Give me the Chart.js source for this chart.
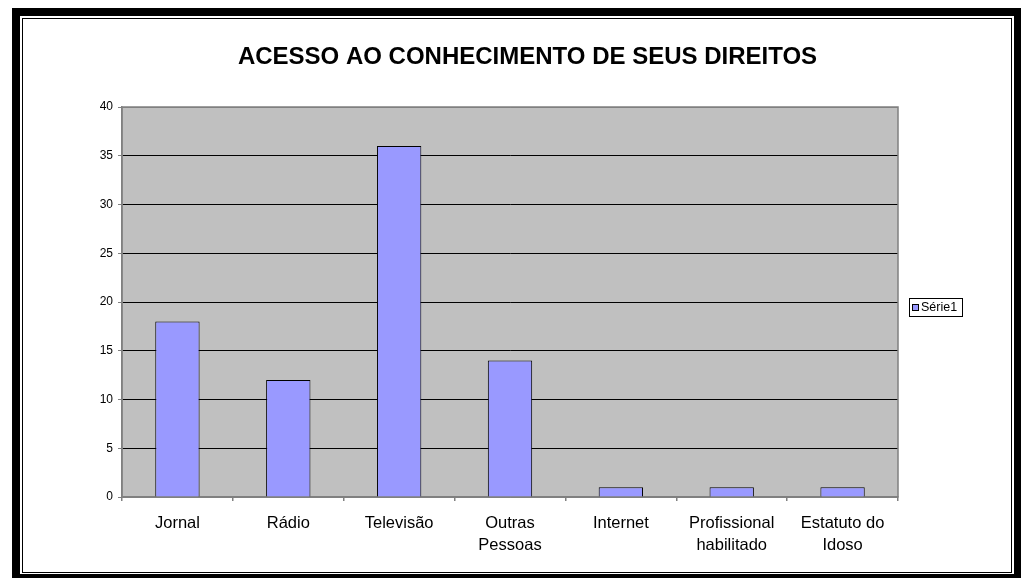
<!DOCTYPE html>
<html>
<head>
<meta charset="utf-8">
<script src="https://cdn.jsdelivr.net/npm/chart.js@4/dist/chart.umd.min.js"></script>
<style>
  html, body { margin: 0; padding: 0; background: #fff; }
  canvas { display: block; }
</style>
</head>
<body>
<canvas id="c" width="1023" height="578"></canvas>
<script>
const titleText = 'ACESSO AO CONHECIMENTO DE SEUS DIREITOS';
const categories = ['Jornal', 'Rádio', 'Televisão', ['Outras', 'Pessoas'], 'Internet', ['Profissional', 'habilitado'], ['Estatuto do', 'Idoso']];
const seriesName = 'Série1';
const seriesValues = [18, 12, 36, 14, 1, 1, 1];
const yMin = 0, yMax = 40, yStep = 5;

const FONT = '"Liberation Sans", Arial, sans-serif';

const framePlugin = {
  id: 'frame',
  beforeDraw(chart) {
    const ctx = chart.ctx;
    const a = chart.chartArea;
    ctx.save();
    // outer thick border
    ctx.fillStyle = '#000';
    ctx.fillRect(12, 8, 1009, 580);
    ctx.fillStyle = '#fff';
    ctx.fillRect(20, 16, 994, 558);
    ctx.strokeStyle = '#000';
    ctx.lineWidth = 1;
    ctx.strokeRect(22.5, 18.5, 989, 554);
    // plot background
    ctx.fillStyle = '#c0c0c0';
    ctx.fillRect(a.left, a.top, a.right - a.left, a.bottom - a.top);
    ctx.restore();
  },
  beforeDatasetsDraw(chart) {
    const ctx = chart.ctx;
    const a = chart.chartArea;
    ctx.save();
    ctx.strokeStyle = '#808080';
    ctx.lineWidth = 1.5;
    ctx.strokeRect(a.left, a.top, a.right - a.left, a.bottom - a.top);
    ctx.restore();
  },
  afterDraw(chart) {
    const ctx = chart.ctx;
    const ds = chart.data.datasets[0];
    const t = chart.options.plugins.chartTitle;
    ctx.save();
    // title
    ctx.fillStyle = '#000';
    ctx.font = 'bold 24px ' + FONT;
    ctx.textAlign = 'center';
    ctx.textBaseline = 'middle';
    ctx.fillText(t.text, 527.5, 57);
    // legend
    ctx.fillStyle = '#fff';
    ctx.fillRect(909, 298, 54, 18);
    ctx.strokeStyle = '#000';
    ctx.lineWidth = 1;
    ctx.strokeRect(909.5, 298.5, 53, 18);
    ctx.fillStyle = ds.backgroundColor;
    ctx.fillRect(912, 304, 7, 7);
    ctx.strokeRect(912.5, 304.5, 6, 6);
    ctx.fillStyle = '#000';
    ctx.font = '12.5px ' + FONT;
    ctx.textBaseline = 'middle';
    ctx.textAlign = 'left';
    ctx.fillText(ds.label, 921, 308);
    ctx.restore();
  }
};

new Chart(document.getElementById('c'), {
  type: 'bar',
  data: {
    labels: categories,
    datasets: [{
      label: seriesName,
      data: seriesValues,
      backgroundColor: '#9999ff',
      borderColor: '#000',
      borderWidth: 1,
      categoryPercentage: 1,
      barPercentage: 0.4
    }]
  },
  options: {
    responsive: false,
    animation: false,
    devicePixelRatio: 1,
    layout: { padding: { left: 30, right: 125, top: 107, bottom: 10 } },
    plugins: {
      legend: { display: false },
      tooltip: { enabled: false },
      title: { display: false },
      chartTitle: { text: titleText }
    },
    scales: {
      x: {
        grid: { display: true, drawOnChartArea: false, offset: true, tickLength: 4, tickColor: '#808080', lineWidth: 1.5 },
        border: { display: true, color: '#808080', width: 1.5 },
        ticks: { color: '#000', font: { family: FONT, size: 16.5, lineHeight: 1.3 }, padding: 12, maxRotation: 0, autoSkip: false },
        afterFit(scale) { scale.height = 71; }
      },
      y: {
        min: yMin, max: yMax,
        grid: {
          color: (c) => (c.tick && (c.tick.value === yMax || c.tick.value === yMin)) ? '#808080' : '#000',
          lineWidth: 1, tickLength: 4, tickColor: '#808080'
        },
        border: { display: true, color: '#808080', width: 1.5 },
        ticks: { stepSize: yStep, color: '#000', font: { family: FONT, size: 12 }, padding: 5 },
        afterFit(scale) { scale.width = 92; }
      }
    }
  },
  plugins: [framePlugin]
});
</script>
</body>
</html>
